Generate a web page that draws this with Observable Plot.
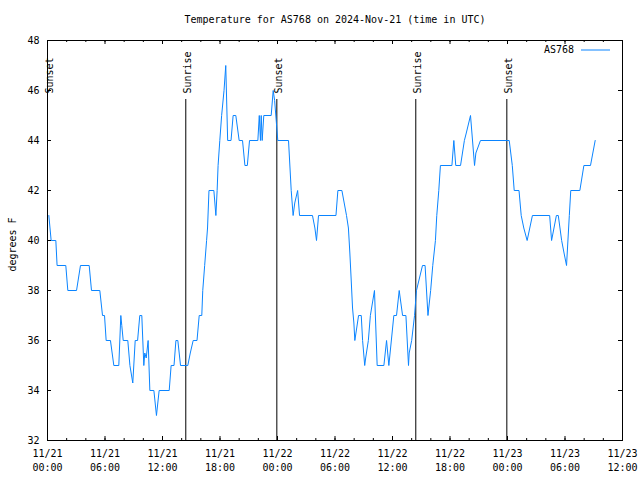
<!DOCTYPE html>
<html><head><meta charset="utf-8">
<script src="https://cdn.jsdelivr.net/npm/d3@7"></script>
<script src="https://cdn.jsdelivr.net/npm/@observablehq/plot@0.6"></script>
<style>body{margin:0;background:#fff} #chart svg{display:block}</style>
</head><body><div id="chart"></div>
<script>
// hours since 2024-11-21 00:00 UTC
const hours = [0.14,0.38,0.87,1.00,1.91,2.12,3.03,3.44,4.35,4.59,5.46,5.74,5.95,6.12,6.57,6.92,7.44,7.65,7.75,7.9,8.38,8.6,8.9,9.15,9.4,9.63,9.84,10.05,10.15,10.3,10.5,10.68,11.1,11.37,11.65,12.7,12.9,13.2,13.4,13.6,13.88,14.64,14.9,15.2,15.6,15.83,16.1,16.2,16.4,16.6,16.7,16.85,17.36,17.57,17.7,17.8,17.98,18.17,18.42,18.6,18.8,19.15,19.37,19.65,20.0,20.35,20.6,20.85,21.08,21.95,22.1,22.22,22.3,22.4,22.57,23.34,23.55,23.7,24.03,25.15,25.43,25.63,25.8,26.1,26.3,27.65,27.9,28.07,28.28,30.1,30.3,30.72,31.2,31.4,31.55,31.68,31.83,31.97,32.07,32.46,32.74,32.88,33.1,33.2,33.48,33.69,34.12,34.4,35.1,35.38,35.62,36.14,36.42,36.7,37.05,37.4,37.67,37.74,38.0,38.3,38.5,39.13,39.4,39.7,39.98,40.2,40.48,40.62,40.83,41.0,42.2,42.4,42.6,43.1,43.5,43.7,44.14,44.56,44.7,45.18,48.18,48.5,48.7,49.2,49.43,49.7,50.05,50.6,52.4,52.6,53.1,53.3,53.65,53.9,54.16,54.45,54.6,55.55,55.97,56.66,57.15];
const tempsF = [41,40,40,39,39,38,38,39,39,38,38,37,37,36,36,35,35,37,36.6,36,36,35,34.3,36,36,37,37,35,35.5,35.3,36,34,34,33,34,34,35,35,36,36,35,35,35.5,36,36,37,37,38,39,40,40.5,42,42,41,42,43,44,45,46,47,44,44,45,45,44,44,43,43,44,44,45,44,45,44,45,45,46,45.6,44,44,42,41,41.5,42,41,41,40.5,40,41,41,42,42,41,40.5,39.5,38.5,37.3,36.7,36,37,37,36,35,35.3,36,37,38,35,35,36,35,37,37,38,37,37,35,35.5,36,37,38,39,39,37,38,39,40,41,42,43,43,44,43,43,44,44.3,45,43,43.5,44,44,43,42,42,41,40.5,40,41,41,40,41,41,40,39.5,39,41,42,42,43,43,44];
const eventLabels = ["Sunset","Sunrise","Sunset","Sunrise","Sunset"];
const eventHours = [0, 14.43, 23.93, 38.43, 47.93];
const majorTickHours = [0,6,12,18,24,30,36,42,48,54,60];
const tickLabels = ["11/21\n00:00","11/21\n06:00","11/21\n12:00","11/21\n18:00","11/22\n00:00","11/22\n06:00","11/22\n12:00","11/22\n18:00","11/23\n00:00","11/23\n06:00","11/23\n12:00"];
const minorTickHours = d3.range(0, 61, 2);
const yTicks = [32,34,36,38,40,42,44,46,48];
const seriesName = "AS768";
const titleText = "Temperature for AS768 on 2024-Nov-21 (time in UTC)";
const yLabel = "degrees F";

const t0 = Date.UTC(2024, 10, 21);
const toDate = h => new Date(t0 + h * 3600e3);
const data = hours.map((h, i) => ({t: toDate(h), v: tempsF[i]}));
const events = eventHours.map((h, i) => ({t: toDate(h), label: eventLabels[i]}));
const majorDates = majorTickHours.map(toDate);
const minorDates = minorTickHours.map(toDate);
const labelMap = new Map(majorDates.map((d, i) => [+d, tickLabels[i]]));
const markerTop = 45.64;
const lineColor = "#0a84ff";

const chart = Plot.plot({
  width: 640, height: 480,
  marginLeft: 47, marginRight: 18, marginTop: 40, marginBottom: 40,
  style: {fontFamily: "'DejaVu Sans Mono', monospace", fontSize: "10px", background: "white", color: "black"},
  x: {type: "utc", domain: [toDate(0), toDate(60)]},
  y: {domain: [32, 48]},
  marks: [
    Plot.axisY({ticks: yTicks, tickSize: 0, tickPadding: 8, label: null}),
    Plot.axisX({ticks: majorDates, tickFormat: d => labelMap.get(+d), tickSize: 0, tickPadding: 6, lineHeight: 1.45, label: null}),
    Plot.tickX(minorDates, {x: d => d, insetTop: 398, stroke: "black"}),
    Plot.tickX(minorDates, {x: d => d, insetBottom: 398, stroke: "black"}),
    Plot.tickX(majorDates, {x: d => d, insetTop: 396, stroke: "black"}),
    Plot.tickX(majorDates, {x: d => d, insetBottom: 396, stroke: "black"}),
    Plot.tickY(yTicks, {y: d => d, insetRight: 571, stroke: "black"}),
    Plot.tickY(yTicks, {y: d => d, insetLeft: 571, stroke: "black"}),
    Plot.ruleX(events, {x: "t", y1: 32, y2: markerTop, stroke: "black", strokeWidth: 1}),
    Plot.text(events, {x: "t", y: markerTop, text: "label", rotate: -90, textAnchor: "start", lineAnchor: "middle", dy: -6, dx: 2, fill: "black"}),
    Plot.line(data, {x: "t", y: "v", stroke: lineColor, strokeWidth: 1}),
    Plot.frame({stroke: "black"}),
    Plot.text([titleText], {frameAnchor: "top", lineAnchor: "middle", textAnchor: "middle", dy: -21, fill: "black"}),
    Plot.text([yLabel], {frameAnchor: "left", textAnchor: "middle", lineAnchor: "middle", dx: -35, dy: 4, rotate: -90, fill: "black"}),
    (index, scales, values, dim) => {
      const g = d3.create("svg:g");
      const xr = dim.width - dim.marginRight;
      const y = dim.marginTop + 10;
      g.append("text").attr("x", xr - 48).attr("y", y).attr("dy", "0.32em")
        .attr("text-anchor", "end").attr("fill", "black").text(seriesName);
      g.append("line").attr("x1", xr - 41).attr("x2", xr - 12).attr("y1", y).attr("y2", y)
        .attr("stroke", lineColor).attr("stroke-width", 1);
      return g.node();
    }
  ]
});
document.getElementById("chart").append(chart);
</script>
</body></html>
